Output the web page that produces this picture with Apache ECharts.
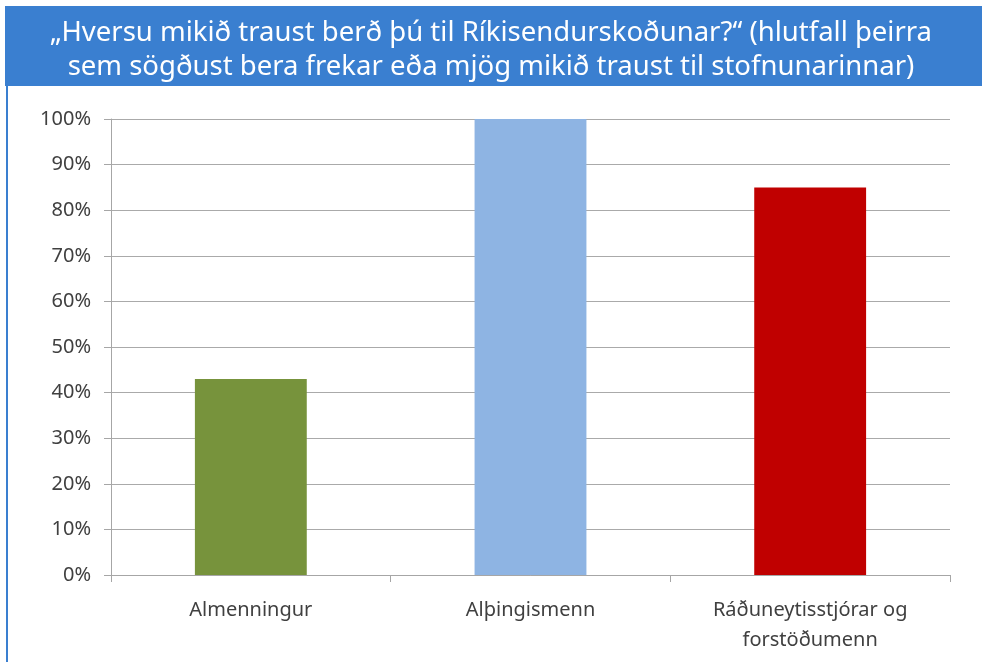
<!DOCTYPE html>
<html>
<head>
<meta charset="utf-8">
<script src="https://cdn.jsdelivr.net/npm/echarts@6/dist/echarts.min.js"></script>
<style>
  html, body { margin: 0; padding: 0; background: #fff; }
  #chart { width: 982px; height: 662px; }
</style>
</head>
<body>
<div id="chart"></div>
<script>
const titleLines = [
  '„Hversu mikið traust berð þú til Ríkisendurskoðunar?“ (hlutfall þeirra',
  'sem sögðust bera frekar eða mjög mikið traust til stofnunarinnar)'
]
const categories = ['Almenningur', 'Alþingismenn', 'Ráðuneytisstjórar og\nforstöðumenn']
const values = [43, 100, 85]
const barColors = ['#77933c', '#8eb4e3', '#c00000']

const font = '"Noto Sans", "Open Sans", sans-serif'
const chart = echarts.init(document.getElementById('chart'))

chart.setOption({
  animation: false,
  graphic: [
    { type: 'rect', shape: { x: 5, y: 6, width: 980, height: 80 }, style: { fill: '#3a7fd0' }, silent: true },
    { type: 'rect', shape: { x: 6, y: 86, width: 2, height: 580 }, style: { fill: '#3a7fd0' }, silent: true },
    {
      type: 'text', left: 'center', top: 19,
      style: { text: titleLines[0], fill: '#fff', font: '27.5px ' + font }
    },
    {
      type: 'text', left: 'center', top: 53,
      style: { text: titleLines[1], fill: '#fff', font: '27.5px ' + font }
    }
  ],
  grid: { left: 111, right: 32, top: 119, bottom: 87 },
  xAxis: {
    type: 'category',
    data: categories,
    axisLine: { lineStyle: { color: '#a6a6a6', width: 1 } },
    axisTick: { show: true, length: 7, lineStyle: { color: '#a6a6a6' } },
    axisLabel: { color: '#404040', fontSize: 20, fontFamily: font, margin: 20, lineHeight: 30 }
  },
  yAxis: {
    type: 'value',
    min: 0, max: 100, interval: 10,
    axisLine: { show: true, lineStyle: { color: '#a6a6a6' } },
    axisTick: { show: true, length: 7, lineStyle: { color: '#a6a6a6' } },
    splitLine: { lineStyle: { color: '#aaaaaa', width: 1 } },
    axisLabel: { color: '#404040', fontSize: 20, fontFamily: font, margin: 20, formatter: '{value}%' }
  },
  series: [{
    type: 'bar',
    barWidth: '40%',
    data: values.map((v, i) => ({ value: v, itemStyle: { color: barColors[i] } }))
  }]
})
</script>
</body>
</html>
